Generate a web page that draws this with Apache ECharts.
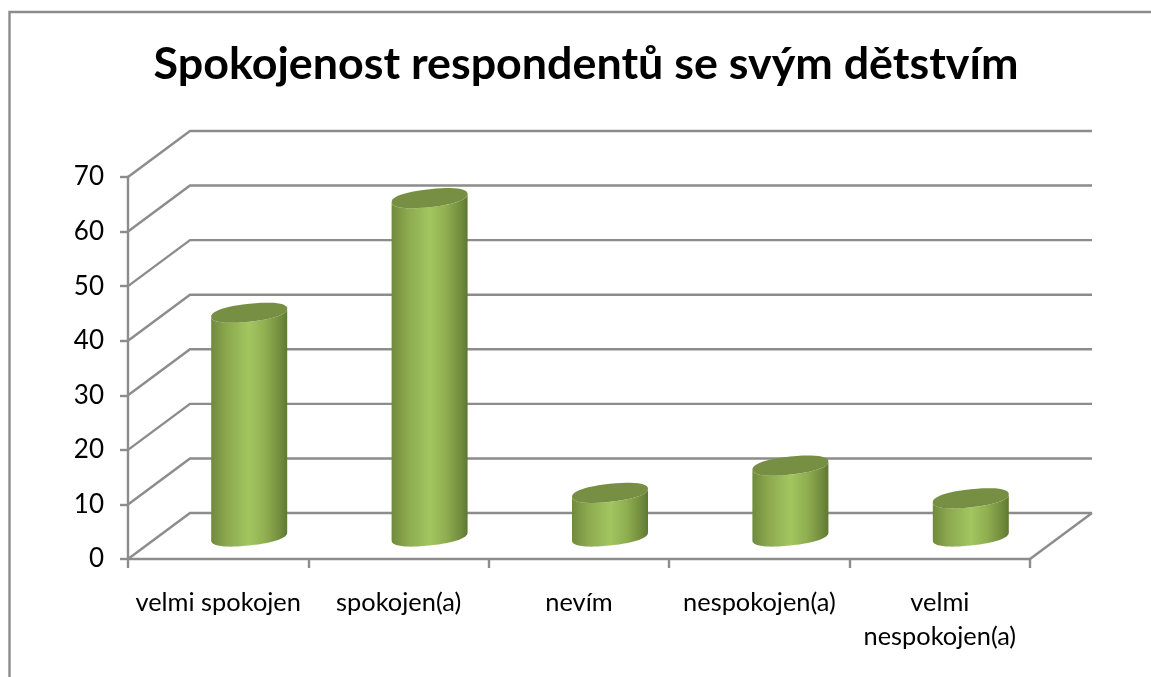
<!DOCTYPE html>
<html>
<head>
<meta charset="utf-8">
<title>Spokojenost respondentů se svým dětstvím</title>
<style>
  html, body { margin: 0; padding: 0; background: #fff; }
  #chart { width: 1151px; height: 677px; }
</style>
</head>
<body>
<div id="chart"></div>
<script src="https://cdn.jsdelivr.net/npm/echarts@6/dist/echarts.min.js"></script>
<script>
  var categories = ['velmi spokojen', 'spokojen(a)', 'nevím', 'nespokojen(a)', 'velmi\nnespokojen(a)'];
  var values = [41, 62, 8, 13, 7];
  var yTicks = [0, 10, 20, 30, 40, 50, 60, 70];
  var titleText = 'Spokojenost respondentů se svým dětstvím';

  var lineColor = '#8c8c8c';
  // 3D look: how far the back wall sits from the front axes
  var depthX = 62;
  var depthY = -46;

  // slightly squared ellipse, the lids in the picture are fuller than a true one
  function bulge(v) {
    return (v < 0 ? -1 : 1) * Math.pow(Math.abs(v), 0.88);
  }

  function ellipsePoints(cx, cy, from, to) {
    var pts = [];
    for (var i = 0; i <= 48; i++) {
      var t = from + (to - from) * i / 48;
      var c = bulge(Math.cos(t));
      var s = bulge(Math.sin(t));
      pts.push([cx + 38 * c, cy - 4 * c + 9 * s]);
    }
    return pts;
  }

  function renderGrid(params, api) {
    var front = api.coord([0, api.value(1)]);
    var sys = params.coordSys;
    var left = sys.x;
    var right = sys.x + sys.width;
    var style = { stroke: lineColor, lineWidth: 2.4, fill: null };
    var children = [{
      type: 'polyline',
      shape: { points: [[left, front[1]], [left + depthX, front[1] + depthY], [right + depthX, front[1] + depthY]] },
      style: style
    }];
    // floor closes on the right side as well
    if (api.value(1) === 0) {
      children.push({
        type: 'line',
        shape: { x1: right, y1: front[1], x2: right + depthX, y2: front[1] + depthY },
        style: style
      });
    }
    return { type: 'group', children: children };
  }

  function renderCylinder(params, api) {
    var top = api.coord([api.value(0), api.value(1)]);
    var base = api.coord([api.value(0), 0]);
    var cx = top[0] + 31;
    var baseY = base[1] - 22.5;
    var topY = top[1] - 22.5;
    // left edge of the lid, down and round the bottom, up the right edge
    var body = [[cx - 38, topY + 4]]
      .concat(ellipsePoints(cx, baseY, Math.PI, 0))
      .concat([[cx + 38, topY - 4]])
      .concat(ellipsePoints(cx, topY, 0, Math.PI));
    return {
      type: 'group',
      children: [{
        type: 'polygon',
        shape: { points: body },
        style: {
          fill: new echarts.graphic.LinearGradient(0, 0, 1, 0, [
            { offset: 0, color: '#6f8a3c' },
            { offset: 0.2, color: '#8ba84e' },
            { offset: 0.5, color: '#a3c660' },
            { offset: 0.72, color: '#8fae50' },
            { offset: 0.92, color: '#6f8a3c' },
            { offset: 1, color: '#5f7831' }
          ])
        }
      }, {
        type: 'polygon',
        shape: { points: ellipsePoints(cx, topY, 0, Math.PI * 2) },
        style: { fill: '#778f42' }
      }]
    };
  }

  var chart = echarts.init(document.getElementById('chart'), null, { renderer: 'canvas' });
  chart.setOption({
    animation: false,
    backgroundColor: '#fff',
    textStyle: { fontFamily: 'Lato' },
    title: {
      text: titleText,
      left: 581,
      top: 37,
      textAlign: 'center',
      textStyle: { fontFamily: 'Lato', fontSize: 44.8, fontWeight: 'bold', color: '#000' }
    },
    graphic: [{
      type: 'rect',
      shape: { x: 9.5, y: 12, width: 1300, height: 800 },
      style: { fill: null, stroke: lineColor, lineWidth: 2.4 }
    }],
    grid: { left: 128, right: 121, top: 177, bottom: 118, containLabel: false },
    xAxis: {
      type: 'category',
      data: categories,
      axisLine: { lineStyle: { color: lineColor, width: 2.4 } },
      axisTick: { show: true, alignWithLabel: false, length: 9, lineStyle: { color: lineColor, width: 2.4 } },
      axisLabel: { interval: 0, color: '#000', fontSize: 25.4, margin: 27, lineHeight: 34, fontFamily: 'Lato' },
      splitLine: { show: false }
    },
    yAxis: {
      type: 'value',
      min: 0,
      max: 70,
      interval: 10,
      axisLine: { show: true, lineStyle: { color: lineColor, width: 2.4 } },
      axisTick: { show: true, length: 8, lineStyle: { color: lineColor, width: 2.4 } },
      axisLabel: { color: '#000', fontSize: 26, margin: 24, padding: [4, 0, 0, 0], fontFamily: 'Lato' },
      splitLine: { show: false }
    },
    series: [{
      type: 'custom',
      name: 'mřížka',
      z: 1,
      clip: false,
      silent: true,
      renderItem: renderGrid,
      data: yTicks.map(function (t) { return [0, t]; })
    }, {
      type: 'custom',
      name: 'Spokojenost',
      z: 3,
      clip: false,
      renderItem: renderCylinder,
      data: values.map(function (v, i) { return [i, v]; })
    }]
  });
</script>
</body>
</html>
